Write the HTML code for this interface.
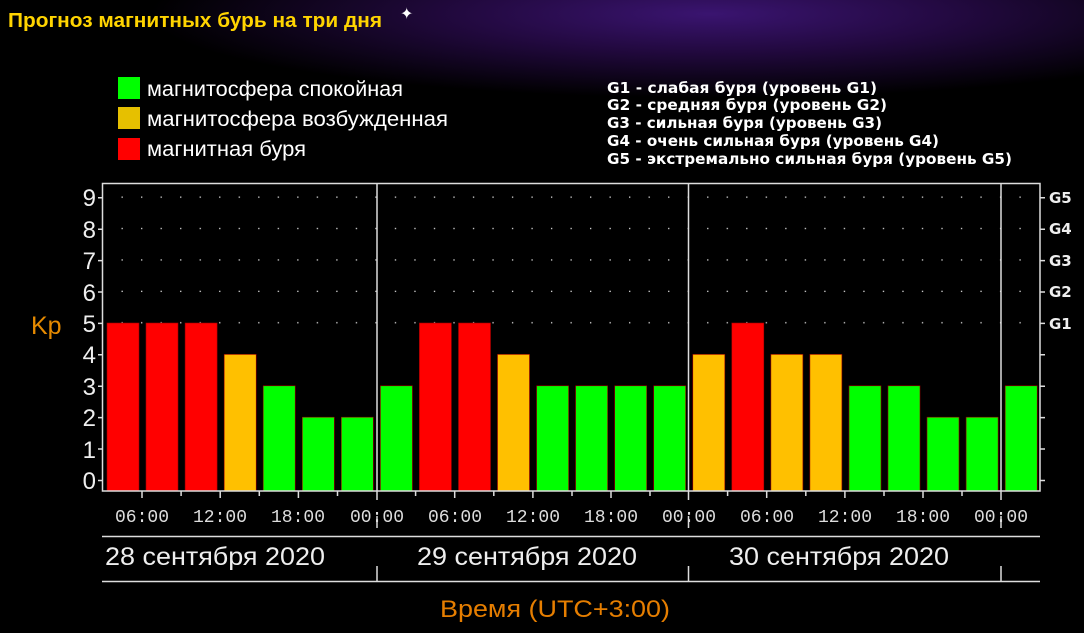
<!DOCTYPE html>
<html><head><meta charset="utf-8"><style>
html,body{margin:0;padding:0;background:#000;}
svg{display:block;}
</style></head><body>
<svg width="1084" height="633" viewBox="0 0 1084 633" xmlns="http://www.w3.org/2000/svg">
<defs>
<radialGradient id="bg1" cx="0.6" cy="0.1" r="0.6" gradientTransform="translate(0,0) scale(1,0.7)">
<stop offset="0" stop-color="#3a1470"/>
<stop offset="0.45" stop-color="#22093f"/>
<stop offset="1" stop-color="#000"/>
</radialGradient>
<pattern id="dots" patternUnits="userSpaceOnUse" x="92.74" y="181.3" width="19.52" height="31.4">
<rect x="9.26" y="15.2" width="1.3" height="1.3" fill="#ddd"/>
</pattern>
</defs>
<rect width="1084" height="633" fill="#000"/>
<rect x="150" y="0" width="934" height="200" fill="url(#bg1)"/>
<text x="400" y="19" fill="#fff" font-size="16" font-family="DejaVu Sans">✦</text>
<text x="8" y="27" fill="#ffd400" font-family="Liberation Sans, sans-serif" font-size="20" font-weight="bold" textLength="374" lengthAdjust="spacingAndGlyphs">Прогноз магнитных бурь на три дня</text>

<rect x="118" y="77" width="22" height="22" fill="#00ff00"/>
<rect x="118" y="107" width="22" height="22" fill="#e6c000"/>
<rect x="118" y="138" width="22" height="22" fill="#ff0000"/>
<g fill="#fff" font-family="Liberation Sans, sans-serif" font-size="21">
<text x="147" y="96" textLength="256" lengthAdjust="spacingAndGlyphs">магнитосфера спокойная</text>
<text x="147" y="126" textLength="301" lengthAdjust="spacingAndGlyphs">магнитосфера возбужденная</text>
<text x="147" y="156" textLength="159" lengthAdjust="spacingAndGlyphs">магнитная буря</text>
</g>
<g fill="#fff" font-family="DejaVu Sans, sans-serif" font-size="15" font-weight="bold">
<text x="607" y="93" textLength="270" lengthAdjust="spacingAndGlyphs">G1 - слабая буря (уровень G1)</text>
<text x="607" y="110" textLength="280" lengthAdjust="spacingAndGlyphs">G2 - средняя буря (уровень G2)</text>
<text x="607" y="128" textLength="275" lengthAdjust="spacingAndGlyphs">G3 - сильная буря (уровень G3)</text>
<text x="607" y="146" textLength="332" lengthAdjust="spacingAndGlyphs">G4 - очень сильная буря (уровень G4)</text>
<text x="607" y="164" textLength="405" lengthAdjust="spacingAndGlyphs">G5 - экстремально сильная буря (уровень G5)</text>
</g>

<rect x="104" y="185" width="934" height="145" fill="url(#dots)"/>

<g stroke="#a00000" stroke-width="0.6">
<rect x="107" y="323" width="32" height="168" fill="#ff0000"/>
<rect x="146" y="323" width="32" height="168" fill="#ff0000"/>
<rect x="185.1" y="323" width="32" height="168" fill="#ff0000"/>
<rect x="224.2" y="354.4" width="32" height="136.6" fill="#ffc000"/>
<rect x="263.2" y="385.8" width="32" height="105.2" fill="#00ff00"/>
<rect x="302.3" y="417.2" width="32" height="73.8" fill="#00ff00"/>
<rect x="341.3" y="417.2" width="32" height="73.8" fill="#00ff00"/>
<rect x="380.4" y="385.8" width="32" height="105.2" fill="#00ff00"/>
<rect x="419.4" y="323" width="32" height="168" fill="#ff0000"/>
<rect x="458.5" y="323" width="32" height="168" fill="#ff0000"/>
<rect x="497.5" y="354.4" width="32" height="136.6" fill="#ffc000"/>
<rect x="536.6" y="385.8" width="32" height="105.2" fill="#00ff00"/>
<rect x="575.6" y="385.8" width="32" height="105.2" fill="#00ff00"/>
<rect x="614.7" y="385.8" width="32" height="105.2" fill="#00ff00"/>
<rect x="653.7" y="385.8" width="32" height="105.2" fill="#00ff00"/>
<rect x="692.8" y="354.4" width="32" height="136.6" fill="#ffc000"/>
<rect x="731.8" y="323" width="32" height="168" fill="#ff0000"/>
<rect x="770.9" y="354.4" width="32" height="136.6" fill="#ffc000"/>
<rect x="809.9" y="354.4" width="32" height="136.6" fill="#ffc000"/>
<rect x="849" y="385.8" width="32" height="105.2" fill="#00ff00"/>
<rect x="888" y="385.8" width="32" height="105.2" fill="#00ff00"/>
<rect x="927" y="417.2" width="32" height="73.8" fill="#00ff00"/>
<rect x="966.1" y="417.2" width="32" height="73.8" fill="#00ff00"/>
<rect x="1005.2" y="385.8" width="32" height="105.2" fill="#00ff00"/>
</g>

<g stroke="#ddd" stroke-width="1.5" fill="none">
<rect x="102.5" y="183.5" width="937.5" height="307.5"/>
<path d="M377 183V500M377 516V528M688.5 183V500M688.5 516V528M1001 183V500M1001 516V528"/>
<path d="M98 480.5H102M98 449H102M98 417.6H102M98 386.2H102M98 354.8H102M98 323.4H102M98 292H102M98 260.6H102M98 229.2H102M98 197.8H102"/>
<path d="M1040 480.5H1045M1040 449H1045M1040 417.6H1045M1040 386.2H1045M1040 354.8H1045M1040 323.4H1045M1040 292H1045M1040 260.6H1045M1040 229.2H1045M1040 197.8H1045"/>
<path d="M142 491V498M181.1 491V496M220.2 491V498M259.3 491V496M298.4 491V498M337.5 491V496M415.6 491V496M454.7 491V498M493.8 491V496M532.9 491V498M572 491V496M611 491V498M650 491V496M727.6 491V496M766.7 491V498M805.8 491V496M844.9 491V498M884 491V496M923 491V498M962 491V496"/>
<path d="M102 536.5H1040M102 581.5H1040M377 566V581M688.5 566V581M1001 566V581"/>
</g>

<g fill="#eee" font-family="Liberation Sans, sans-serif" font-size="24" text-anchor="end">
<text x="96" y="489">0</text><text x="96" y="458">1</text><text x="96" y="426">2</text>
<text x="96" y="395">3</text><text x="96" y="363">4</text><text x="96" y="332">5</text>
<text x="96" y="301">6</text><text x="96" y="269">7</text><text x="96" y="238">8</text>
<text x="96" y="206">9</text>
</g>
<text x="31" y="334" fill="#e68a00" font-family="Liberation Sans, sans-serif" font-size="25">Kp</text>
<g fill="#eee" font-family="DejaVu Sans, sans-serif" font-size="15" font-weight="bold">
<text x="1049" y="203">G5</text><text x="1049" y="234">G4</text><text x="1049" y="266">G3</text>
<text x="1049" y="297">G2</text><text x="1049" y="329">G1</text>
</g>
<g fill="#ddd" font-family="Liberation Mono, monospace" font-size="18" text-anchor="middle">
<text x="142" y="522">06:00</text><text x="220" y="522">12:00</text><text x="298" y="522">18:00</text><text x="377" y="522">00:00</text>
<text x="455" y="522">06:00</text><text x="533" y="522">12:00</text><text x="611" y="522">18:00</text><text x="689" y="522">00:00</text>
<text x="767" y="522">06:00</text><text x="845" y="522">12:00</text><text x="923" y="522">18:00</text><text x="1001" y="522">00:00</text>
</g>
<g fill="#eee" font-family="Liberation Sans, sans-serif" font-size="25">
<text x="105" y="565" textLength="220" lengthAdjust="spacingAndGlyphs">28 сентября 2020</text>
<text x="417" y="565" textLength="220" lengthAdjust="spacingAndGlyphs">29 сентября 2020</text>
<text x="729" y="565" textLength="220" lengthAdjust="spacingAndGlyphs">30 сентября 2020</text>
</g>
<text x="440" y="617" fill="#e67e00" font-family="Liberation Sans, sans-serif" font-size="24" textLength="230" lengthAdjust="spacingAndGlyphs">Время (UTC+3:00)</text>
</svg>
</body></html>
